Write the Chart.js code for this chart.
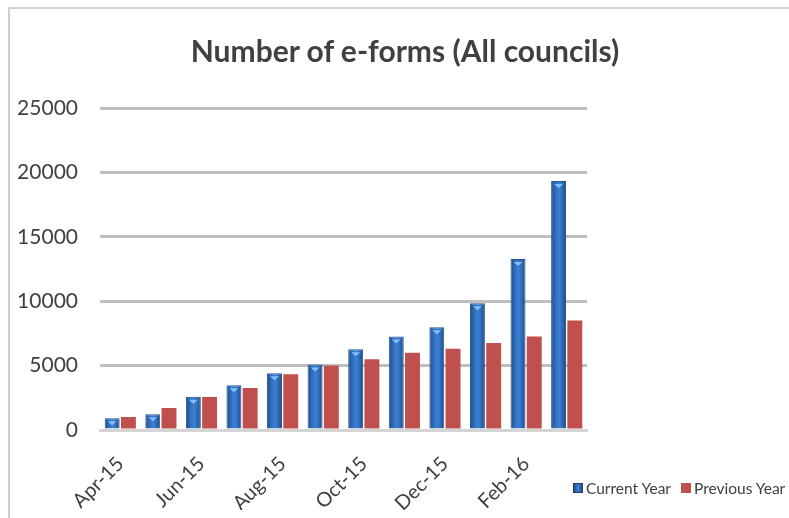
<!DOCTYPE html>
<html>
<head>
<meta charset="utf-8">
<script src="https://cdn.jsdelivr.net/npm/chart.js@4/dist/chart.umd.min.js"></script>
<style>
  html, body { margin: 0; padding: 0; background: #ffffff; }
  body { width: 789px; height: 518px; position: relative; overflow: hidden; font-family: Lato, "Open Sans", sans-serif; color: #404040; }
  #frame { position: absolute; left: 8px; top: 7px; width: 900px; height: 600px; border-left: 2px solid #cfcfcf; border-top: 2px solid #cfcfcf; }
  #chart-wrap { position: absolute; left: 0; top: 0; width: 789px; height: 518px; }
  #title { position: absolute; left: 0; width: 810px; top: 34px; line-height: 32px; text-align: center; font-size: 30px; font-weight: bold; }
  .legend-item { position: absolute; top: 478px; font-size: 15.5px; line-height: 20px; white-space: nowrap; }
  .legend-item .box { position: absolute; left: -13px; top: 5px; width: 10px; height: 10px; box-sizing: border-box; }
</style>
</head>
<body>
<div id="frame"></div>
<div id="chart-wrap"><canvas id="eforms-chart" width="789" height="518"></canvas></div>
<div id="title">Number of e-forms (All councils)</div>
<div class="legend-item" style="left: 586px;"><span class="box" style="background: linear-gradient(90deg, #1f4f8a, #3b7fd0 50%, #1f4f8a); border: 1px solid #1b3f6e;"></span>Current Year</div>
<div class="legend-item" style="left: 694px;"><span class="box" style="background: #c0504d;"></span>Previous Year</div>
<script>
const months = ["Apr-15", "May-15", "Jun-15", "Jul-15", "Aug-15", "Sep-15", "Oct-15", "Nov-15", "Dec-15", "Jan-16", "Feb-16", "Mar-16"];
const currentYear = [910, 1220, 2590, 3470, 4400, 5080, 6270, 7250, 7980, 9850, 13270, 19330];
const previousYear = [1010, 1710, 2570, 3260, 4330, 5000, 5500, 5990, 6300, 6760, 7250, 8500];
const yTicks = [0, 5000, 10000, 15000, 20000, 25000];

const textColor = "#404040";
const canvas = document.getElementById("eforms-chart");

function blueFill(context) {
  const el = context.element;
  if (!el || el.x == null || isNaN(el.x)) return "#2e6cb8";
  const half = el.width / 2;
  const g = context.chart.ctx.createLinearGradient(el.x - half, 0, el.x + half, 0);
  g.addColorStop(0, "#1d4a82");
  g.addColorStop(0.3, "#2f6fbf");
  g.addColorStop(0.55, "#3b80d4");
  g.addColorStop(0.8, "#2c66ad");
  g.addColorStop(1, "#1b457a");
  return g;
}

// small light bevel at the top of each blue bar
const bevelPlugin = {
  id: "bevel",
  afterDatasetsDraw(chart) {
    const meta = chart.getDatasetMeta(0);
    const ctx = chart.ctx;
    ctx.save();
    meta.data.forEach((bar) => {
      const w = bar.width;
      ctx.fillStyle = "rgba(140,200,255,0.9)";
      ctx.beginPath();
      ctx.moveTo(bar.x - w * 0.3, bar.y + 3);
      ctx.lineTo(bar.x + w * 0.3, bar.y + 3);
      ctx.lineTo(bar.x, bar.y + 7);
      ctx.closePath();
      ctx.fill();
    });
    ctx.restore();
  }
};

const chart = new Chart(canvas, {
  type: "bar",
  data: {
    labels: months,
    datasets: [
      {
        label: "Current Year",
        data: currentYear,
        backgroundColor: blueFill,
        borderColor: "#24548f",
        borderWidth: 1,
        categoryPercentage: 0.8,
        barPercentage: 0.92
      },
      {
        label: "Previous Year",
        data: previousYear,
        backgroundColor: "#c0504d",
        borderWidth: 0,
        categoryPercentage: 0.8,
        barPercentage: 0.92
      }
    ]
  },
  options: {
    responsive: false,
    animation: false,
    layout: { padding: { left: 14, right: 202, top: 108, bottom: 8 } },
    plugins: {
      legend: { display: false },
      tooltip: { enabled: false },
      title: { display: false }
    },
    scales: {
      x: {
        afterFit: (axis) => {
          axis.height = 80;
        },
        grid: { display: false, drawTicks: false },
        border: { display: true, color: "#d4d4d4", width: 3 },
        ticks: {
          color: textColor,
          font: { family: "Lato", size: 20 },
          maxRotation: 45,
          minRotation: 45,
          autoSkip: false,
          padding: 22,
          callback: (value, index) => (index % 2 === 0 ? months[index] : "")
        }
      },
      y: {
        min: 0,
        max: 25000,
        afterBuildTicks: (axis) => {
          axis.ticks = yTicks.map((v) => ({ value: v }));
        },
        afterFit: (axis) => {
          axis.width = 86;
        },
        grid: { color: "#bfbfbf", lineWidth: 3, drawTicks: false },
        border: { display: false },
        ticks: {
          color: textColor,
          font: { family: "Lato", size: 21 },
          padding: 22,
          callback: (value) => String(value)
        }
      }
    }
  },
  plugins: [bevelPlugin]
});

// second pass so gradients can use the bar positions
chart.update("none");
</script>
</body>
</html>
